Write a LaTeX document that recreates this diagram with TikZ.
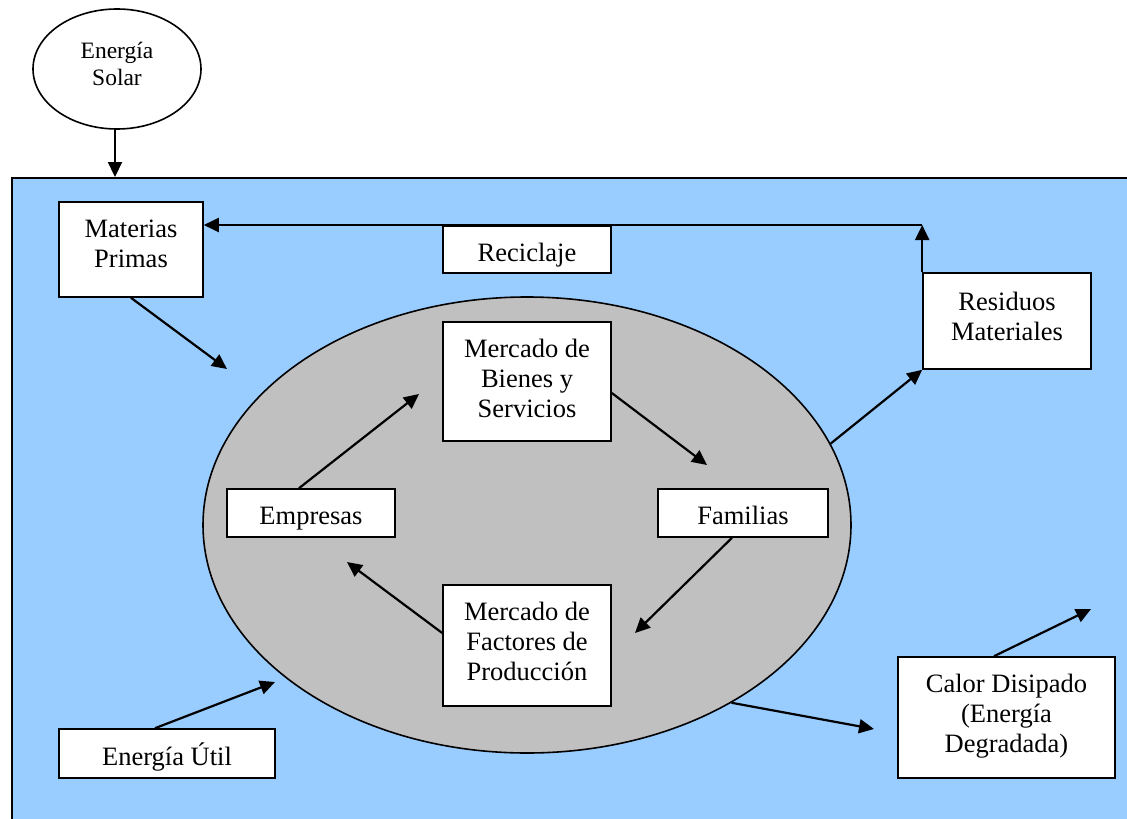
\documentclass[tikz,border=0pt]{standalone}
\usepackage{fontspec}
\setmainfont{Liberation Serif}
\usetikzlibrary{arrows.meta,shapes.geometric,calc}
\definecolor{skyfill}{HTML}{99CCFF}
\definecolor{grayfill}{HTML}{C0C0C0}
\begin{document}
\begin{tikzpicture}[x=1pt,y=-1pt,
  boxnode/.style={draw, fill=white, line width=1.6pt, inner sep=0pt},
  txt/.style={font=\fontsize{26.5}{30}\selectfont, align=center, inner sep=0pt, anchor=north},
  soltxt/.style={font=\fontsize{23.5}{27}\selectfont, align=center, inner sep=0pt, anchor=north},
  arr/.style={-{Triangle[length=15pt,width=14pt]}, line width=2.2pt}]
\useasboundingbox (0,0) rectangle (1127,819);
\clip (0,0) rectangle (1127,819);
\fill[white] (0,0) rectangle (1127,819);
% system
\node[draw, fill=skyfill, line width=1.6pt, inner sep=0pt, minimum width=1140pt, minimum height=660pt, anchor=north west] (sys) at (11,177) {};
% sun
\node[ellipse, draw, fill=white, line width=1.6pt, inner sep=0pt, minimum width=168pt, minimum height=120pt] (solar) at (117,69) {};
\node[soltxt] (solart) at (117,39.1) {\strut Energía\\\strut Solar};
% economy ellipse
\node[ellipse, draw, fill=grayfill, line width=1.6pt, inner sep=0pt, minimum width=648pt, minimum height=456pt] (big) at (527,525) {};
% boxes
\node[boxnode, minimum width=144pt, minimum height=95pt] (mp) at (131,249.5) {};
\node[txt] (mpt) at (131,216) {\strut Materias\\\strut Primas};
\node[boxnode, minimum width=168pt, minimum height=47pt] (rec) at (527,249.5) {};
\node[txt] (rect) at (527,240) {\strut Reciclaje};
\node[boxnode, minimum width=168pt, minimum height=96pt] (res) at (1007,321) {};
\node[txt] (rest) at (1007,289) {\strut Residuos\\\strut Materiales};
\node[boxnode, minimum width=168pt, minimum height=119pt] (mb) at (527,381.5) {};
\node[txt] (mbt) at (527,336) {\strut Mercado de\\\strut Bienes y\\\strut Servicios};
\node[boxnode, minimum width=168pt, minimum height=48pt] (emp) at (311,513) {};
\node[txt] (empt) at (311,503) {\strut Empresas};
\node[boxnode, minimum width=170pt, minimum height=48pt] (fam) at (743,513) {};
\node[txt] (famt) at (743,503) {\strut Familias};
\node[boxnode, minimum width=168pt, minimum height=121pt] (mf) at (527,645.5) {};
\node[txt] (mft) at (527,599) {\strut Mercado de\\\strut Factores de\\\strut Producción};
\node[boxnode, minimum width=217pt, minimum height=121pt] (cd) at (1006.5,717.5) {};
\node[txt] (cdt) at (1006.5,671) {\strut Calor Disipado\\\strut (Energía\\\strut Degradada)};
\node[boxnode, minimum width=216pt, minimum height=49pt] (eu) at (167,753.5) {};
\node[txt] (eut) at (167,743) {\strut Energía Útil};
% coordinates
\coordinate (mpTip) at (227,369);
\coordinate (empTip) at (419,394);
\coordinate (mbTip) at (707,465);
\coordinate (famTip) at (635,633);
\coordinate (mfTip) at (347,562);
\coordinate (heatTip) at (874,729);
\coordinate (euTip) at (275,682);
\coordinate (cdTip) at (1091,609);
\coordinate (recY) at (0,225);
\coordinate (recCorner) at (res.north west |- recY);
\coordinate (recBreak) at (372,225);
% connectors
\draw[arr] ([xshift=-2pt]solar.south) -- ([xshift=-2pt]solar.south |- sys.north);
\draw[arr] (mp.south) -- (mpTip);
\draw[arr] ([xshift=-12pt]emp.north) -- (empTip);
\draw[arr] ([yshift=-11.5pt]mb.east) -- (mbTip);
\draw[arr] ([xshift=-11pt]fam.south) -- (famTip);
\draw[arr] ([yshift=12.5pt]mf.west) -- (mfTip);
\draw[arr] (big.15.6) -- (res.south west);
\draw[arr] (big.-41.6) -- (heatTip);
\draw[arr] ([xshift=-12pt]eu.north) -- (euTip);
\draw[arr] ([xshift=-12.5pt]cd.north) -- (cdTip);
\draw[arr] (res.north west) -- (recCorner);
\draw[line width=1.4pt] (recCorner) -- (recBreak);
\draw[arr] (recBreak) -- (recBreak -| mp.east);
\end{tikzpicture}
\end{document}
